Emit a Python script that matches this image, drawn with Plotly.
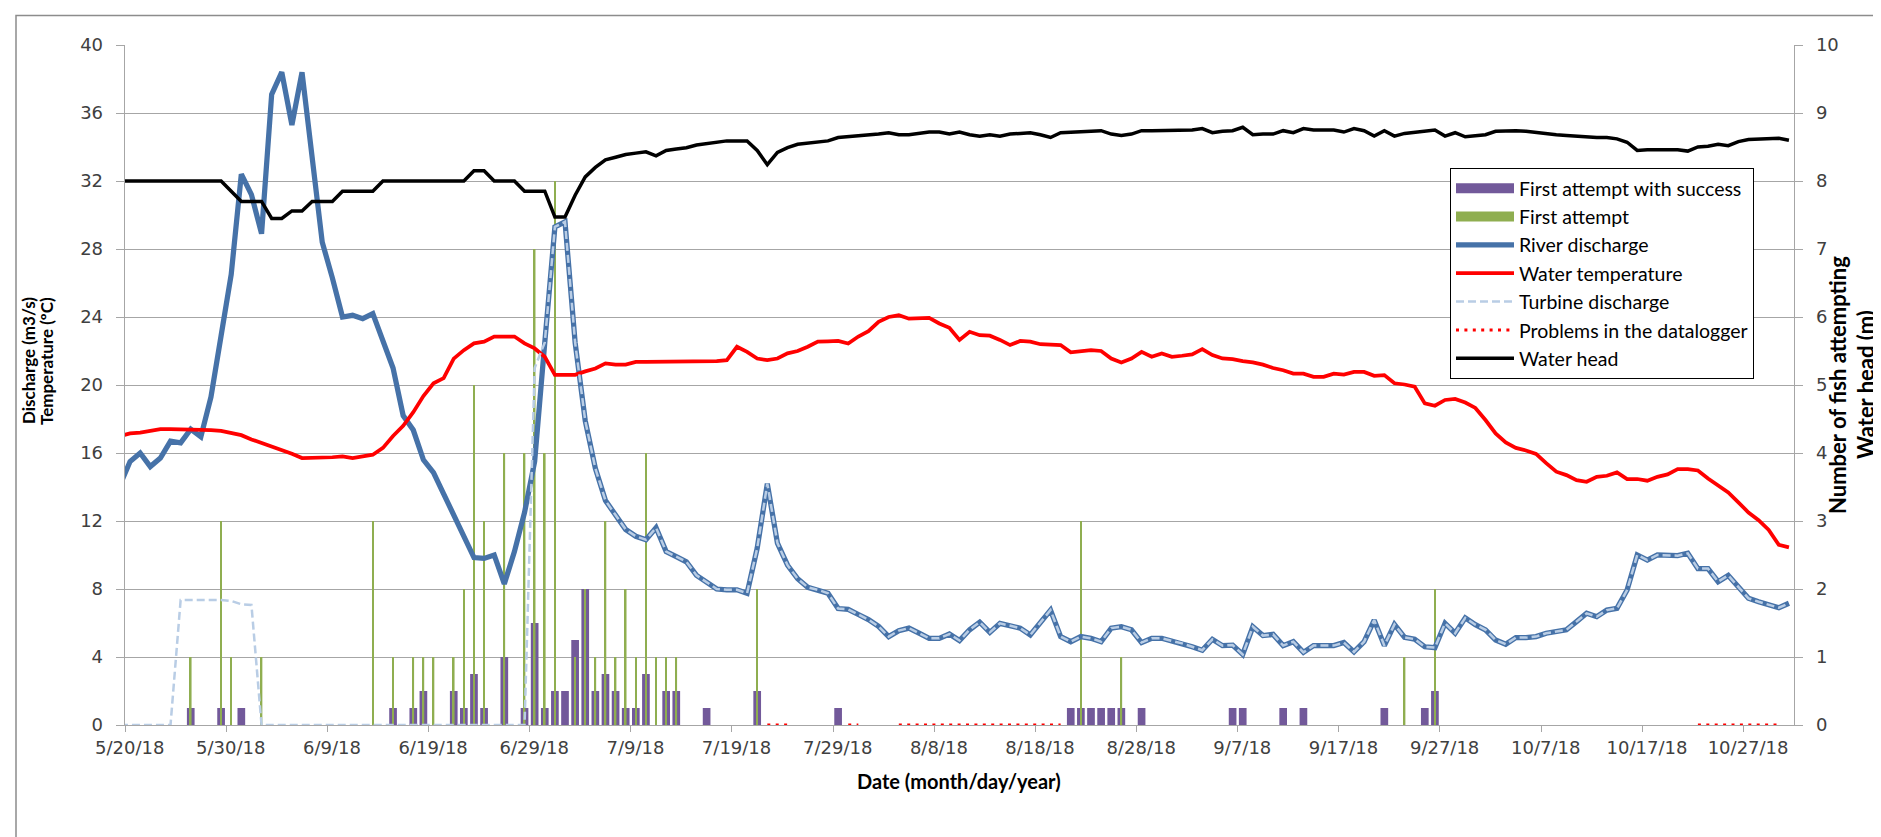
import pandas as pd
import plotly.graph_objects as go

# ---------------- data ----------------
# daily series start on 5/19/18 (just left of the axis start) and end on 10/31/18
dates = pd.date_range("2018-05-19", "2018-10-31", freq="D").strftime("%Y-%m-%d").tolist()

river_discharge = [
    14.1,
    15.5, 16.0, 15.2, 15.7, 16.7, 16.6, 17.4, 16.95, 19.3, 22.9,
    26.5, 32.4, 31.2, 28.9, 37.1, 38.4, 35.3, 38.4, 33.3, 28.4,
    26.3, 24.0, 24.1, 23.9, 24.2, 22.5, 21.0, 18.2, 17.35, 15.6,
    14.85, 13.6, 12.4, 11.2, 9.85, 9.8, 10.0, 8.3, 10.2, 12.5,
    15.5, 22.5, 29.3, 29.6, 22.5, 17.9, 15.1, 13.2, 12.35, 11.5,
    11.1, 10.9, 11.6, 10.2, 9.9, 9.6, 8.8, 8.4, 8.0, 7.95,
    7.95, 7.75, 10.4, 14.2, 10.7, 9.4, 8.6, 8.1, 7.95, 7.75,
    6.85, 6.8, 6.5, 6.2, 5.8, 5.2, 5.55, 5.7, 5.4, 5.1,
    5.1, 5.35, 4.97, 5.6, 6.05, 5.45, 5.98, 5.85, 5.7, 5.3,
    6.0, 6.76, 5.2, 4.9, 5.2, 5.1, 4.9, 5.7, 5.78, 5.6,
    4.85, 5.1, 5.1, 4.95, 4.8, 4.6, 4.4, 5.04, 4.67, 4.7,
    4.15, 5.78, 5.26, 5.33, 4.67, 4.9, 4.27, 4.67, 4.67, 4.67,
    4.85, 4.3, 4.9, 6.17, 4.67, 5.92, 5.15, 5.05, 4.6, 4.55,
    5.98, 5.4, 6.3, 5.9, 5.6, 5.0, 4.75, 5.14, 5.14, 5.2,
    5.4, 5.5, 5.6, 6.08, 6.57, 6.37, 6.76, 6.86, 7.94, 10.0,
    9.7, 10.0, 10.0, 9.96, 10.1, 9.2, 9.2, 8.43, 8.8, 8.1,
    7.45, 7.25, 7.06, 6.9, 7.16,
]

water_temperature = [
    17.0,
    17.15, 17.2, 17.3, 17.4, 17.4, 17.4, 17.4, 17.35, 17.35, 17.3,
    17.2, 17.05, 16.8, 16.6, 16.4, 16.2, 15.95, 15.7, 15.7, 15.7,
    15.75, 15.8, 15.7, 15.8, 15.9, 16.3, 17.0, 17.6, 18.4, 19.35,
    20.1, 20.4, 21.55, 22.05, 22.45, 22.55, 22.85, 22.85, 22.85, 22.45,
    22.15, 21.66, 20.6, 20.6, 20.6, 20.8, 20.97, 21.27, 21.2, 21.2,
    21.36, 21.36, 21.36, 21.36, 21.36, 21.36, 21.36, 21.36, 21.4, 21.46,
    22.25, 21.95, 21.56, 21.46, 21.56, 21.86, 22.0, 22.25, 22.55, 22.57,
    22.59, 22.44, 22.85, 23.17, 23.72, 24.0, 24.1, 23.9, 23.92, 23.95,
    23.62, 23.37, 22.65, 23.13, 22.93, 22.9, 22.65, 22.35, 22.59, 22.55,
    22.4, 22.38, 22.35, 21.92, 21.98, 22.05, 22.0, 21.56, 21.33, 21.56,
    21.95, 21.66, 21.86, 21.66, 21.72, 21.8, 22.11, 21.76, 21.56, 21.52,
    21.4, 21.33, 21.2, 21.0, 20.87, 20.67, 20.67, 20.48, 20.48, 20.67,
    20.61, 20.77, 20.77, 20.54, 20.58, 20.1, 20.03, 19.9, 18.92, 18.78,
    19.12, 19.18, 18.97, 18.65, 17.94, 17.15, 16.62, 16.3, 16.15, 15.95,
    15.4, 14.9, 14.7, 14.4, 14.31, 14.6, 14.66, 14.86, 14.47, 14.47,
    14.37, 14.6, 14.74, 15.05, 15.05, 14.97, 14.5, 14.08, 13.68, 13.1,
    12.5, 12.05, 11.47, 10.6, 10.45,
]

water_head = [
    8.0,
    8.0, 8.0, 8.0, 8.0, 8.0, 8.0, 8.0, 8.0, 8.0, 8.0,
    7.85, 7.7, 7.7, 7.7, 7.45, 7.45, 7.56, 7.56, 7.7, 7.7,
    7.7, 7.85, 7.85, 7.85, 7.85, 8.0, 8.0, 8.0, 8.0, 8.0,
    8.0, 8.0, 8.0, 8.0, 8.15, 8.15, 8.0, 8.0, 8.0, 7.85,
    7.85, 7.85, 7.47, 7.47, 7.79, 8.06, 8.2, 8.31, 8.35, 8.39,
    8.41, 8.43, 8.37, 8.45, 8.47, 8.49, 8.53, 8.55, 8.57, 8.59,
    8.59, 8.59, 8.45, 8.24, 8.42, 8.49, 8.54, 8.56, 8.58, 8.59,
    8.64, 8.65, 8.66, 8.67, 8.69, 8.71, 8.68, 8.68, 8.70, 8.72,
    8.72, 8.69, 8.72, 8.68, 8.66, 8.68, 8.66, 8.69, 8.70, 8.71,
    8.68, 8.64, 8.71, 8.72, 8.72, 8.73, 8.74, 8.69, 8.67, 8.69,
    8.74, 8.74, 8.74, 8.74, 8.75, 8.75, 8.77, 8.71, 8.73, 8.74,
    8.79, 8.68, 8.69, 8.69, 8.74, 8.71, 8.77, 8.75, 8.75, 8.75,
    8.72, 8.77, 8.74, 8.66, 8.74, 8.66, 8.70, 8.72, 8.74, 8.75,
    8.66, 8.71, 8.65, 8.67, 8.68, 8.73, 8.74, 8.74, 8.73, 8.71,
    8.69, 8.68, 8.67, 8.66, 8.64, 8.64, 8.64, 8.62, 8.57, 8.45,
    8.46, 8.46, 8.46, 8.46, 8.44, 8.50, 8.51, 8.54, 8.52, 8.58,
    8.61, 8.62, 8.62, 8.63, 8.60,
]

# turbine discharge: early values; from 7/1/18 on it coincides with the river discharge
turbine_early = [
    0.0,
    0.0, 0.0, 0.0, 0.0, 0.0, 7.35, 7.35, 7.35, 7.35, 7.35,
    7.3, 7.1, 7.06, 0.0, 0.0, 0.0, 0.0, 0.0, 0.0, 0.0,
    0.0, 0.0, 0.0, 0.0, 0.0, 0.0, 0.0, 0.0, 0.0, 0.0,
    0.0, 0.0, 0.0, 0.0, 0.0, 0.0, 0.0, 0.0, 0.0, 0.0,
    21.0, 22.5,
]
turbine_discharge = turbine_early + river_discharge[len(turbine_early):]

# datalogger failure periods (drawn at 0)
datalogger_periods = [("2018-07-22", "2018-07-24"), ("2018-07-30", "2018-07-31"),
                      ("2018-08-04", "2018-08-20"), ("2018-10-22", "2018-10-30")]
datalogger = [0 if any(a <= d <= b for a, b in datalogger_periods) else None for d in dates]

success_dates = ["2018-05-26", "2018-05-29", "2018-05-31", "2018-06-15", "2018-06-17", "2018-06-18",
                 "2018-06-21", "2018-06-22", "2018-06-23", "2018-06-24", "2018-06-26", "2018-06-28",
                 "2018-06-29", "2018-06-30", "2018-07-01", "2018-07-02", "2018-07-03", "2018-07-04",
                 "2018-07-05", "2018-07-06", "2018-07-07", "2018-07-08", "2018-07-09", "2018-07-10",
                 "2018-07-12", "2018-07-13", "2018-07-16", "2018-07-21", "2018-07-29", "2018-08-21",
                 "2018-08-22", "2018-08-23", "2018-08-24", "2018-08-25", "2018-08-26", "2018-08-28",
                 "2018-09-06", "2018-09-07", "2018-09-11", "2018-09-13", "2018-09-21", "2018-09-25",
                 "2018-09-26"]
success_counts = [1, 1, 1, 1, 1, 2, 2, 1, 3, 1, 4, 1, 6, 1, 2, 2, 5, 8, 2, 3, 2, 1, 1, 3,
                  2, 2, 1, 2, 1, 1, 1, 1, 1, 1, 1, 1, 1, 1, 1, 1, 1, 1, 2]

attempt_dates = ["2018-05-26", "2018-05-29", "2018-05-30", "2018-06-02", "2018-06-13", "2018-06-15",
                 "2018-06-17", "2018-06-18", "2018-06-19", "2018-06-21", "2018-06-22", "2018-06-23",
                 "2018-06-24", "2018-06-26", "2018-06-28", "2018-06-29", "2018-06-30", "2018-07-01",
                 "2018-07-03", "2018-07-04", "2018-07-05", "2018-07-06", "2018-07-07", "2018-07-08",
                 "2018-07-09", "2018-07-10", "2018-07-11", "2018-07-12", "2018-07-13", "2018-07-21",
                 "2018-08-22", "2018-08-26", "2018-09-23", "2018-09-26"]
attempt_counts = [1, 3, 1, 1, 3, 1, 1, 1, 1, 1, 2, 5, 3, 4, 4, 7, 4, 8,
                  1, 2, 1, 3, 1, 2, 1, 4, 1, 1, 1, 2, 3, 1, 1, 2]

# ---------------- styling ----------------
PURPLE = "#72599A"
GREEN = "#8FAE50"
BLUE = "#4672A8"
LIGHTBLUE = "#B9CDE5"
GRID = "#A6A6A6"
DAY = 86400000
PAD = "\u00a0\u2009"  # small non-collapsing spacing used to offset tick labels

W, H = 1881, 837
L, R, T, B = 117, 1786, 37, 717


def px_x(p):
    return (p - L) / (R - L)


def px_y(p):
    return (B - p) / (B - T)


period = dict(xperiod=DAY, xperiodalignment="middle")

fig = go.Figure()

# legend-only entries for the bar series (wide swatches, as in the original)
fig.add_trace(go.Scatter(x=[None], y=[None], mode="lines", name="First attempt with success",
                         line=dict(color=PURPLE, width=10), yaxis="y3"))
fig.add_trace(go.Scatter(x=[None], y=[None], mode="lines", name="First attempt",
                         line=dict(color=GREEN, width=10), yaxis="y3"))

fig.add_trace(go.Bar(x=success_dates, y=success_counts, name="First attempt with success",
                     marker=dict(color=PURPLE, line=dict(width=0)), width=0.76 * DAY,
                     showlegend=False, yaxis="y", **period))
fig.add_trace(go.Bar(x=attempt_dates, y=attempt_counts, name="First attempt",
                     marker=dict(color=GREEN, line=dict(width=0)), width=0.16 * DAY,
                     showlegend=False, yaxis="y2", **period))

fig.add_trace(go.Scatter(x=dates, y=river_discharge, mode="lines", name="River discharge",
                         line=dict(color=BLUE, width=5.25), yaxis="y3", **period))
fig.add_trace(go.Scatter(x=dates, y=water_temperature, mode="lines", name="Water temperature",
                         line=dict(color="#FF0000", width=3.75), yaxis="y3", **period))
fig.add_trace(go.Scatter(x=dates, y=turbine_discharge, mode="lines", name="Turbine discharge",
                         line=dict(color=LIGHTBLUE, width=2.5, dash="8px,4px"), yaxis="y3", **period))
fig.add_trace(go.Scatter(x=dates, y=datalogger, mode="lines", name="Problems in the datalogger",
                         line=dict(color="#FF0000", width=3, dash="3px,5.4px"), connectgaps=False,
                         yaxis="y3", **period))
fig.add_trace(go.Scatter(x=dates, y=water_head, mode="lines", name="Water head",
                         line=dict(color="black", width=3.5), yaxis="y4", **period))

tickfont = dict(family="DejaVu Sans", size=18, color="#404040")

fig.update_layout(
    width=W, height=H,
    margin=dict(l=L, r=W - R, t=T, b=H - B, autoexpand=False),
    paper_bgcolor="white", plot_bgcolor="white",
    barmode="overlay",
    hovermode=False,
    xaxis=dict(type="date", range=["2018-05-20", "2018-11-01"], tick0="2018-05-20", dtick=10 * DAY,
               tickformat="%-m/%-d/%y", tickprefix=PAD, ticks="outside", ticklen=6, tickcolor=GRID,
               tickwidth=1, showline=True, linecolor=GRID, linewidth=1, showgrid=False, zeroline=False,
               tickfont=tickfont),
    yaxis=dict(range=[0, 40], dtick=4, showgrid=True, gridcolor=GRID, gridwidth=1, zeroline=False,
               showline=True, linecolor=GRID, linewidth=1, ticks="outside", ticklen=8, tickcolor=GRID,
               tickfont=tickfont, ticksuffix=PAD),
    yaxis2=dict(range=[0, 10], dtick=1, overlaying="y", side="right", showgrid=False, zeroline=False,
                showline=True, linecolor=GRID, linewidth=1, ticks="outside", ticklen=8, tickcolor=GRID,
                tickfont=tickfont, tickprefix=PAD),
    yaxis3=dict(range=[0, 40], overlaying="y", visible=False),
    yaxis4=dict(range=[0, 10], overlaying="y", visible=False),
    legend=dict(x=px_x(1442), y=px_y(160), xanchor="left", yanchor="top",
                bordercolor="black", borderwidth=1, bgcolor="white",
                font=dict(family="Lato", size=19.5, color="black"),
                itemwidth=58, tracegroupgap=0, traceorder="normal"),
    shapes=[dict(type="rect", xref="paper", yref="paper",
                 x0=px_x(8), x1=px_x(1879.5), y0=px_y(7.5), y1=px_y(860),
                 line=dict(color="#8C8C8C", width=1.5), fillcolor="rgba(0,0,0,0)", layer="below")],
    annotations=[
        dict(text="<b>Discharge (m3/s)</b>", xref="paper", yref="paper", x=px_x(20), y=px_y(353),
             textangle=-90, showarrow=False, xanchor="center", yanchor="middle",
             font=dict(family="Lato", size=17, color="black")),
        dict(text="<b>Temperature (ºC)</b>", xref="paper", yref="paper", x=px_x(38), y=px_y(353),
             textangle=-90, showarrow=False, xanchor="center", yanchor="middle",
             font=dict(family="Lato", size=17, color="black")),
        dict(text="<b>Number of fish attempting</b>", xref="paper", yref="paper", x=px_x(1829),
             y=px_y(377), textangle=-90, showarrow=False, xanchor="center", yanchor="middle",
             font=dict(family="Lato", size=22, color="black")),
        dict(text="<b>Water head (m)</b>", xref="paper", yref="paper", x=px_x(1857), y=px_y(377),
             textangle=-90, showarrow=False, xanchor="center", yanchor="middle",
             font=dict(family="Lato", size=22, color="black")),
        dict(text="<b>Date (month/day/year)</b>", xref="paper", yref="paper", x=px_x(951), y=px_y(773),
             showarrow=False, xanchor="center", yanchor="middle",
             font=dict(family="Lato", size=20, color="black")),
    ],
)

fig.write_html("out.html")
